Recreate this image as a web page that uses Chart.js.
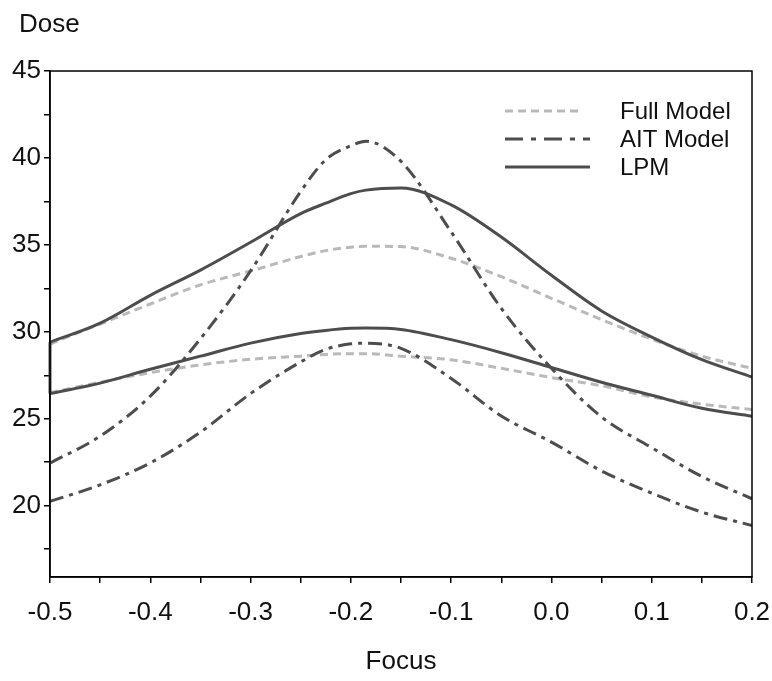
<!DOCTYPE html>
<html>
<head>
<meta charset="utf-8">
<script src="https://cdn.jsdelivr.net/npm/chart.js@4.4.1/dist/chart.umd.min.js"></script>
<style>
  html, body { margin: 0; padding: 0; background: #fff; }
  #wrap { width: 772px; height: 681px; }
</style>
</head>
<body>
<div id="wrap"><canvas id="doseChart"></canvas></div>
<script>
// focus values (x) shared by all curves
var focusValues = [-0.5, -0.45, -0.4, -0.35, -0.3, -0.25, -0.225, -0.2, -0.185, -0.15, -0.1, -0.05, 0.0, 0.05, 0.1, 0.15, 0.2];

// dose values
var fullUpper = [29.3, 30.45, 31.6, 32.7, 33.5, 34.33, 34.67, 34.87, 34.92, 34.9, 34.23, 33.17, 31.93, 30.7, 29.58, 28.6, 27.9];
var fullLower = [26.5, 27.1, 27.65, 28.1, 28.42, 28.6, 28.7, 28.74, 28.74, 28.6, 28.39, 27.9, 27.37, 26.9, 26.26, 25.84, 25.53];
var aitUpper  = [22.45, 24.0, 26.3, 29.6, 33.5, 38.07, 39.9, 40.7, 40.96, 39.8, 35.75, 31.35, 27.9, 25.1, 23.34, 21.68, 20.4];
var aitLower  = [20.25, 21.2, 22.46, 24.23, 26.45, 28.27, 28.99, 29.31, 29.35, 29.05, 27.32, 25.16, 23.66, 22.0, 20.72, 19.63, 18.86];
var lpmUpper  = [29.4, 30.5, 32.1, 33.55, 35.15, 36.8, 37.4, 37.95, 38.15, 38.27, 37.3, 35.45, 33.25, 31.2, 29.7, 28.4, 27.4];
var lpmLower  = [26.45, 27.05, 27.85, 28.6, 29.35, 29.9, 30.08, 30.2, 30.22, 30.14, 29.55, 28.8, 27.95, 27.1, 26.35, 25.6, 25.15];

var xTicks = [-0.5, -0.45, -0.4, -0.35, -0.3, -0.25, -0.2, -0.15, -0.1, -0.05, 0.0, 0.05, 0.1, 0.15, 0.2];
var yTicks = [17.5, 20, 22.5, 25, 27.5, 30, 32.5, 35, 37.5, 40, 42.5, 45];
var legendNames = ['Full Model', 'AIT Model', 'LPM'];

var FONT = '"Liberation Sans", Arial, sans-serif';
var lightGray = '#b9b9b9';
var darkGray = '#4d4d4d';
var fullDash = [8, 5];
var aitDash = [14, 6, 4, 6];

function toPoints(ys) {
  return focusValues.map(function(x, i) { return {x: x, y: ys[i]}; });
}

function lineSet(label, ys, color, dash, order) {
  return {
    label: label,
    data: toPoints(ys),
    borderColor: color,
    borderWidth: 3,
    borderDash: dash,
    pointRadius: 0,
    fill: false,
    cubicInterpolationMode: 'monotone',
    order: order
  };
}

var datasets = [
  lineSet(legendNames[0], fullUpper, lightGray, fullDash, 3),
  lineSet(legendNames[0], fullLower, lightGray, fullDash, 3),
  lineSet(legendNames[1], aitUpper, darkGray, aitDash, 2),
  lineSet(legendNames[1], aitLower, darkGray, aitDash, 2),
  lineSet(legendNames[2], lpmUpper, darkGray, [], 1),
  lineSet(legendNames[2], lpmLower, darkGray, [], 1)
];
// LPM closing edge at the left
datasets.push({
  label: 'edge',
  data: [{x: focusValues[0], y: lpmUpper[0]}, {x: focusValues[0], y: lpmLower[0]}],
  borderColor: darkGray, borderWidth: 3, pointRadius: 0, order: 1, clip: false
});

var legendStyles = [
  {color: lightGray, dash: fullDash, len: 77},
  {color: darkGray, dash: [18, 8, 5, 8], len: 85},
  {color: darkGray, dash: [], len: 85}
];

var decorPlugin = {
  id: 'decor',
  afterDatasetsDraw: function(chart) {
    var ctx = chart.ctx, a = chart.chartArea;
    ctx.save();
    // frame
    ctx.strokeStyle = '#000';
    ctx.lineWidth = 1.5;
    ctx.strokeRect(a.left, a.top, a.right - a.left, a.bottom - a.top);
    // y axis name
    ctx.fillStyle = '#111';
    ctx.font = '26px ' + FONT;
    ctx.textBaseline = 'alphabetic';
    ctx.textAlign = 'left';
    ctx.fillText('Dose', 19, 32);
    // legend
    ctx.font = '24px ' + FONT;
    ctx.textBaseline = 'middle';
    for (var i = 0; i < legendNames.length; i++) {
      var y = 111 + i * 28;
      var st = legendStyles[i];
      ctx.strokeStyle = st.color;
      ctx.lineWidth = 3;
      ctx.setLineDash(st.dash);
      ctx.beginPath();
      ctx.moveTo(505, y);
      ctx.lineTo(505 + st.len, y);
      ctx.stroke();
      ctx.setLineDash([]);
      ctx.fillText(legendNames[i], 620, y + 1);
    }
    ctx.restore();
  }
};

function tenths(v) {
  return Math.abs(v * 10 - Math.round(v * 10)) < 1e-6;
}

new Chart(document.getElementById('doseChart'), {
  type: 'line',
  data: {datasets: datasets},
  options: {
    responsive: true,
    maintainAspectRatio: false,
    animation: false,
    layout: {padding: {top: 71, right: 20, bottom: 0, left: 0}},
    plugins: {legend: {display: false}, tooltip: {enabled: false}},
    scales: {
      x: {
        type: 'linear',
        min: -0.5,
        max: 0.2,
        afterBuildTicks: function(scale) { scale.ticks = xTicks.map(function(v) { return {value: v}; }); },
        afterFit: function(scale) { scale.height = 104; scale.paddingLeft = 0; scale.paddingRight = 0; },
        grid: {drawOnChartArea: false, drawTicks: true, tickLength: 6, color: '#000', lineWidth: 1.5},
        border: {color: '#000', width: 1.5},
        ticks: {
          autoSkip: false, maxRotation: 0, padding: 14, color: '#111',
          font: {family: FONT, size: 26},
          callback: function(v) { return tenths(v) ? v.toFixed(1) : ''; }
        },
        title: {display: true, text: 'Focus', color: '#111', font: {family: FONT, size: 26}, padding: {top: 0, bottom: 4}}
      },
      y: {
        type: 'linear',
        min: 15.9,
        max: 45,
        afterBuildTicks: function(scale) { scale.ticks = yTicks.map(function(v) { return {value: v}; }); },
        afterFit: function(scale) { scale.width = 50; },
        grid: {drawOnChartArea: false, drawTicks: true, tickLength: 6, color: '#000', lineWidth: 1.5},
        border: {color: '#000', width: 1.5},
        ticks: {
          autoSkip: false, padding: 3, color: '#111',
          font: {family: FONT, size: 26},
          callback: function(v) { return v % 5 === 0 ? String(v) : ''; }
        }
      }
    }
  },
  plugins: [decorPlugin]
});
</script>
</body>
</html>
